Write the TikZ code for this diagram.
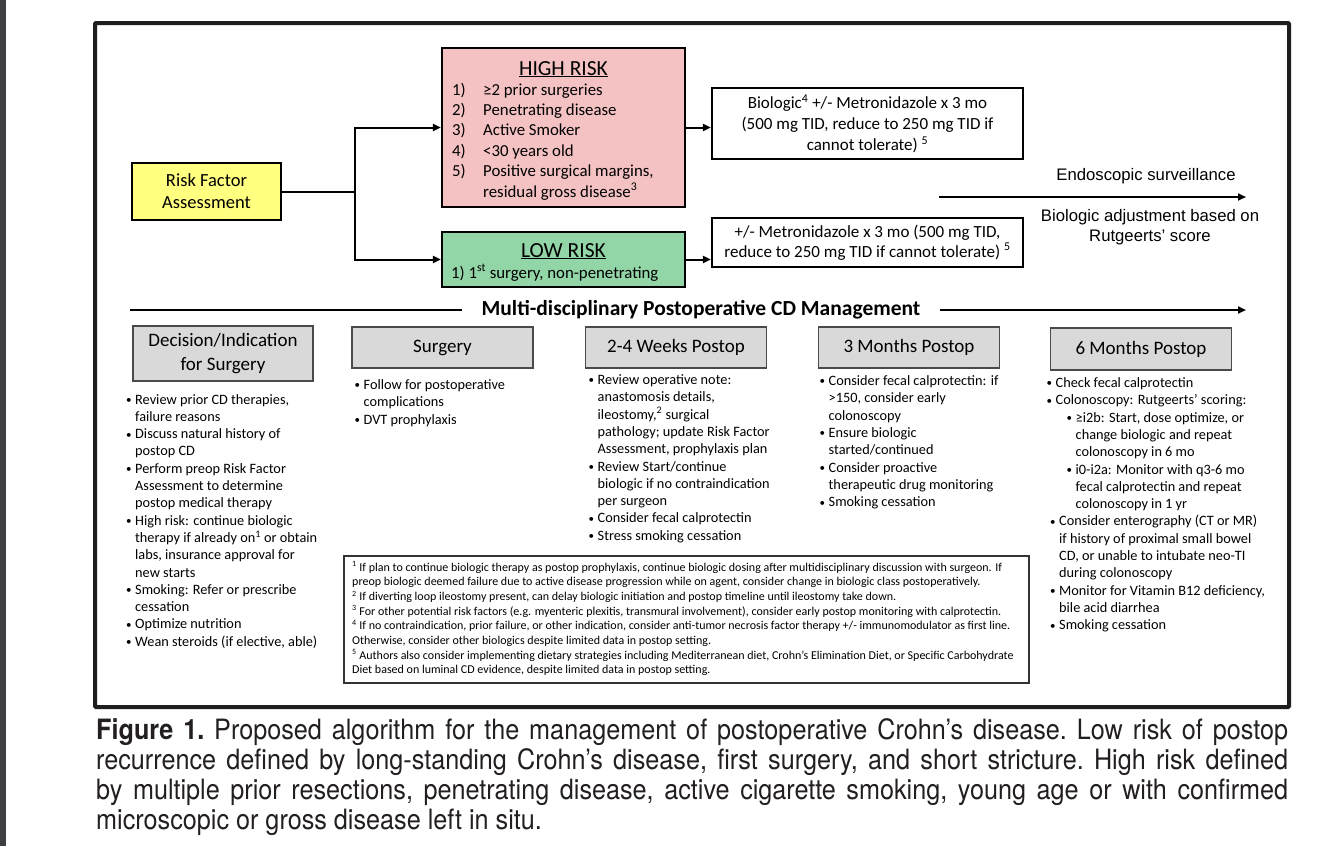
\documentclass[tikz,border=0pt]{standalone}
\usepackage{fontspec}
\setmainfont{Carlito}
\newfontfamily\arialf{Liberation Sans}
\newfontfamily\capf[FakeStretch=0.90]{TeX Gyre Heros}
\usetikzlibrary{arrows.meta}
\definecolor{rfy}{HTML}{FFFF80}
\definecolor{hipink}{HTML}{F4C2C2}
\definecolor{logreen}{HTML}{92D5A6}
\definecolor{hdrfill}{HTML}{D9D9D9}
\definecolor{hdrline}{HTML}{4A4A4A}
\definecolor{framecol}{HTML}{1E1E1E}
\definecolor{barcol}{HTML}{3C4043}
\definecolor{capcol}{HTML}{231F20}
\definecolor{fnline}{HTML}{333333}
\newcommand\fsz[2]{\fontsize{#1}{#2}\selectfont}
\newcommand\bu{\makebox[9pt][l]{\fontsize{11}{11}\selectfont\raisebox{0.6pt}{•}}}
\newcommand\ind{\hspace*{9pt}}
\tikzset{
 box/.style={draw=black, line width=2.2pt, inner sep=0pt},
 rfbox/.style={box, fill=rfy, minimum width=149pt, minimum height=57pt, align=center, font=\fsz{18.5}{22}},
 hibox/.style={box, fill=hipink, minimum width=243pt, minimum height=159pt},
 lobox/.style={box, fill=logreen, minimum width=243pt, minimum height=55pt},
 txbox/.style={box, fill=white, minimum width=311pt, align=center, font=\fsz{17}{21}},
 hdr/.style={draw=hdrline, line width=1.5pt, fill=hdrfill, minimum width=181pt, align=center, font=\fsz{19}{24}, inner sep=0pt},
 arr/.style={line width=2pt, -{Triangle[length=8pt,width=7pt]}},
 conn/.style={line width=2pt},
 blist/.style={anchor=base west, align=left, inner sep=0pt, font=\fsz{14.3}{17.3}},
 plain/.style={inner sep=0pt},
}
\begin{document}
\begin{tikzpicture}[x=1pt,y=-1pt]
\useasboundingbox (0,0) rectangle (1334,846);
\fill[white] (0,0) rectangle (1334,846);
\fill[barcol] (0,0) rectangle (6,846);
\draw[framecol, line width=4pt, rounded corners=1pt] (95,23) rectangle (1289,707);

% risk boxes
\node[rfbox] (rf) at (206.5,191.5) {Risk Factor\\Assessment};
\node[hibox] (high) at (563.5,127.5) {};
\node[lobox] (low) at (563.5,259.5) {};
\node[plain, anchor=base, font=\fsz{21.5}{24}] (hititle) at (563.5,75) {\underline{HIGH RISK}};
\node[plain, anchor=base west, align=left, font=\fsz{16.8}{20.4}] (hiitems) at (452,197)
 {\makebox[31pt][l]{1)}≥2 prior surgeries\\
  \makebox[31pt][l]{2)}Penetrating disease\\
  \makebox[31pt][l]{3)}Active Smoker\\
  \makebox[31pt][l]{4)}<30 years old\\
  \makebox[31pt][l]{5)}Positive surgical margins,\\
  \hspace*{31pt}residual gross disease\textsuperscript{3}};
\node[plain, anchor=base, font=\fsz{21.5}{24}] (lotitle) at (563.5,257) {\underline{LOW RISK}};
\node[plain, anchor=base west, font=\fsz{16.8}{20}] (loitem) at (451,278) {1) 1\textsuperscript{st} surgery, non-penetrating};

\node[txbox, minimum height=71pt] (bio) at (867.5,123.5)
 {Biologic\textsuperscript{4} +/- Metronidazole x 3 mo\\(500 mg TID, reduce to 250 mg TID if\\cannot tolerate) \textsuperscript{5}};
\node[txbox, minimum height=49pt, font=\fsz{17}{20}] (met) at (867.5,242.5)
 {+/- Metronidazole x 3 mo (500 mg TID,\\reduce to 250 mg TID if cannot tolerate) \textsuperscript{5}};

\coordinate (j) at (355,191.5);
\draw[conn] (rf.east) -- (j);
\draw[arr] (j) |- (high.west);
\draw[arr] (j) |- (low.west);
\draw[arr] (high.east) -- (high.east -| bio.west);
\draw[arr] (low.east) -- (low.east -| met.west);

% endoscopic surveillance
\coordinate (es1) at (939,197);
\coordinate (es2) at (1246,197);
\draw[arr] (es1) -- (es2);
\node[plain, font=\arialf\fsz{16.7}{20}] (endo) at (1146,176) {Endoscopic surveillance};
\node[plain, align=center, font=\arialf\fsz{16.7}{20}] (bioadj) at (1150,227) {Biologic adjustment based on\\Rutgeerts’ score};

% timeline
\coordinate (ml) at (130,310);
\coordinate (mr) at (1246,310);
\node[font=\bfseries\fsz{21.5}{24}, inner ysep=0pt, inner xsep=19pt] (mt) at (701,310) {Multi-disciplinary Postoperative CD Management};
\draw[conn] (ml) -- (mt.west);
\draw[arr] (mt.east) -- (mr);

% headers
\node[hdr, minimum width=180pt, minimum height=55pt] (h1) at (223,353.5) {Decision/Indication\\for Surgery};
\node[hdr, minimum height=41pt] (h2) at (442.5,347.5) {Surgery};
\node[hdr, minimum height=41pt] (h3) at (676,347.5) {2-4 Weeks Postop};
\node[hdr, minimum height=41pt] (h4) at (909,347.5) {3 Months Postop};
\node[hdr, minimum height=42pt] (h5) at (1141,349) {6 Months Postop};

% bullet lists (anchored at the baseline of their last line)
\node[blist] (c1) at (126,646.2)
 {\bu Review prior CD therapies,\\
  \ind failure reasons\\
  \bu Discuss natural history of\\
  \ind postop CD\\
  \bu Perform preop Risk Factor\\
  \ind Assessment to determine\\
  \ind postop medical therapy\\
  \bu High risk: continue biologic\\
  \ind therapy if already on\textsuperscript{1} or obtain\\
  \ind labs, insurance approval for\\
  \ind new starts\\
  \bu Smoking: Refer or prescribe\\
  \ind cessation\\
  \bu Optimize nutrition\\
  \bu Wean steroids (if elective, able)};
\node[blist] (c2) at (354.5,424.1)
 {\bu Follow for postoperative\\
  \ind complications\\
  \bu DVT prophylaxis};
\node[blist] (c3) at (588.5,540.2)
 {\bu Review operative note:\\
  \ind anastomosis details,\\
  \ind ileostomy,\textsuperscript{2} surgical\\
  \ind pathology; update Risk Factor\\
  \ind Assessment, prophylaxis plan\\
  \bu Review Start/continue\\
  \ind biologic if no contraindication\\
  \ind per surgeon\\
  \bu Consider fecal calprotectin\\
  \bu Stress smoking cessation};
\node[blist] (c4) at (819.5,506.6)
 {\bu Consider fecal calprotectin: if\\
  \ind >150, consider early\\
  \ind colonoscopy\\
  \bu Ensure biologic\\
  \ind started/continued\\
  \bu Consider proactive\\
  \ind therapeutic drug monitoring\\
  \bu Smoking cessation};
\node[blist] (c5) at (1046.5,629.7)
 {\bu Check fecal calprotectin\\
  \bu Colonoscopy: Rutgeerts’ scoring:\\
  \hspace*{20pt}\bu ≥i2b: Start, dose optimize, or\\
  \hspace*{29pt}change biologic and repeat\\
  \hspace*{29pt}colonoscopy in 6 mo\\
  \hspace*{20pt}\bu i0-i2a: Monitor with q3-6 mo\\
  \hspace*{29pt}fecal calprotectin and repeat\\
  \hspace*{29pt}colonoscopy in 1 yr\\
  \hspace*{3.5pt}\bu Consider enterography (CT or MR)\\
  \hspace*{12.5pt}if history of proximal small bowel\\
  \hspace*{12.5pt}CD, or unable to intubate neo-TI\\
  \hspace*{12.5pt}during colonoscopy\\
  \hspace*{3.5pt}\bu Monitor for Vitamin B12 deficiency,\\
  \hspace*{12.5pt}bile acid diarrhea\\
  \hspace*{3.5pt}\bu Smoking cessation};

% footnotes
\node[draw=fnline, line width=1.2pt, minimum width=685pt, minimum height=127pt, inner sep=0pt] (fnbox) at (686.5,619.5) {};
\node[plain, anchor=base west, align=left, font=\fsz{12}{14.7}] (fn) at (352,673.9)
 {\textsuperscript{1} If plan to continue biologic therapy as postop prophylaxis, continue biologic dosing after multidisciplinary discussion with surgeon. If\\
  preop biologic deemed failure due to active disease progression while on agent, consider change in biologic class postoperatively.\\
  \textsuperscript{2} If diverting loop ileostomy present, can delay biologic initiation and postop timeline until ileostomy take down.\\
  \textsuperscript{3} For other potential risk factors (e.g. myenteric plexitis, transmural involvement), consider early postop monitoring with calprotectin.\\
  \textsuperscript{4} If no contraindication, prior failure, or other indication, consider anti-tumor necrosis factor therapy +/- immunomodulator as first line.\\
  Otherwise, consider other biologics despite limited data in postop setting.\\
  \textsuperscript{5} Authors also consider implementing dietary strategies including Mediterranean diet, Crohn’s Elimination Diet, or Specific Carbohydrate\\
  Diet based on luminal CD evidence, despite limited data in postop setting.};

% caption
\node[plain, anchor=base west, align=left, text=capcol, font=\capf\frenchspacing\fsz{28}{30}] (cap) at (96,829)
 {\makebox[1192pt][s]{\textbf{Figure 1.} Proposed algorithm for the management of postoperative Crohn’s disease. Low risk of postop}\\
  \makebox[1192pt][s]{recurrence defined by long-standing Crohn’s disease, first surgery, and short stricture. High risk defined}\\
  \makebox[1192pt][s]{by multiple prior resections, penetrating disease, active cigarette smoking, young age or with confirmed}\\
  microscopic or gross disease left in situ.};
\end{tikzpicture}
\end{document}
